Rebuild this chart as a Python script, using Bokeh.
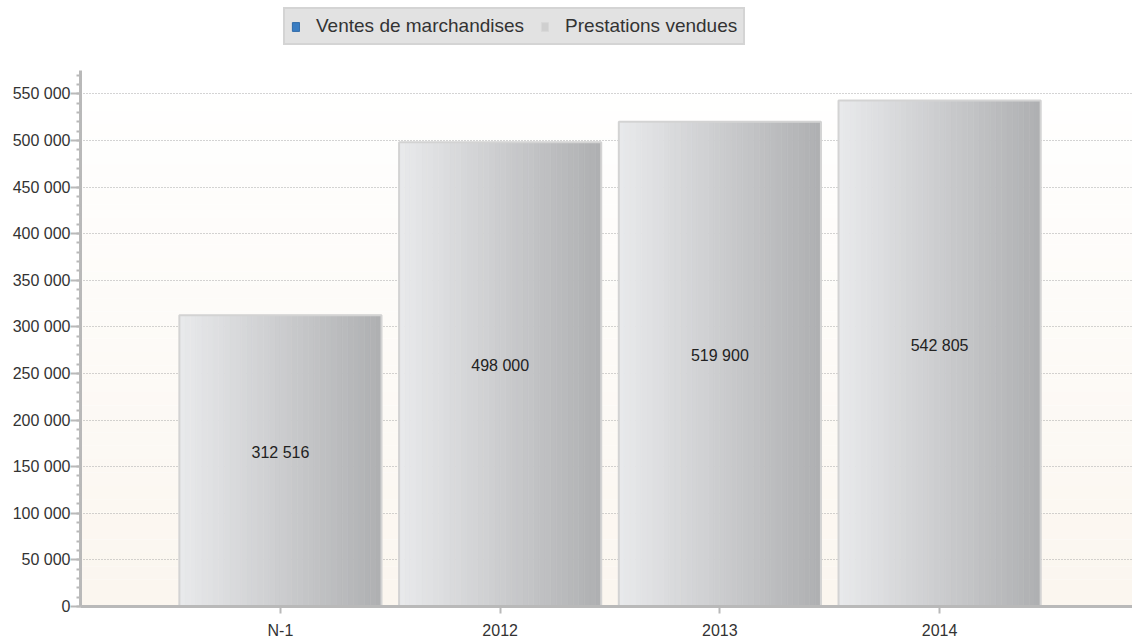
import numpy as np
from bokeh.plotting import figure
from bokeh.layouts import column
from bokeh.models import Range1d, Legend, LegendItem, FixedTicker
from bokeh.core.properties import value
from bokeh.embed import file_html
from bokeh.resources import INLINE

# ---- data ----
categories = ["N-1", "2012", "2013", "2014"]
ventes_marchandises = [0, 0, 0, 0]
prestations_vendues = [312516, 498000, 519900, 542805]
y_major_ticks = list(range(0, 550001, 50000))
y_minor_ticks = list(range(0, 575001, 10000))

FONT = "Liberation Sans"
X0, X1 = -0.91, 3.878
Y0, Y1 = 0, 575000
BAR_W = 0.92
W = 1132
LEG_H = 70
MAIN_H = 641 - LEG_H

def fmt(v):
    return f"{int(v):,}".replace(",", " ")

def mix(c1, c2, t):
    a = [int(c1[i:i + 2], 16) for i in (1, 3, 5)]
    b = [int(c2[i:i + 2], 16) for i in (1, 3, 5)]
    return "#%02x%02x%02x" % tuple(round(a[k] + (b[k] - a[k]) * t) for k in range(3))

xs = list(range(len(categories)))

# ---------------- main chart ----------------
p = figure(width=W, height=MAIN_H, output_backend="svg", toolbar_location=None,
           x_range=Range1d(X0, X1), y_range=Range1d(Y0, Y1),
           min_border_left=80, min_border_right=0, min_border_top=0, min_border_bottom=34)
p.outline_line_color = None
p.background_fill_color = "#ffffff"
p.border_fill_color = "#ffffff"

# background vertical gradient (cream at bottom to white at top)
nb = 40
bb = np.linspace(Y0, Y1, nb + 1)
p.quad(left=[X0] * nb, right=[X1] * nb, bottom=bb[:-1], top=bb[1:],
       fill_color=[mix("#fbf6ef", "#ffffff", i / (nb - 1)) for i in range(nb)],
       line_color=None, level="image")

# stacked bars: ventes (zero) + prestations, prestations with horizontal gradient
base = ventes_marchandises
tops = [b + v for b, v in zip(base, prestations_vendues)]
ns = 36
L, R, B, T, C = [], [], [], [], []
for i, x in enumerate(xs):
    for k in range(ns):
        L.append(x - BAR_W / 2 + BAR_W * k / ns)
        R.append(x - BAR_W / 2 + BAR_W * (k + 1) / ns)
        B.append(base[i])
        T.append(tops[i])
        C.append(mix("#e8e9eb", "#afb0b2", k / (ns - 1)))
p.quad(left=L, right=R, bottom=B, top=T, fill_color=C, line_color=C, line_width=0.6)
p.vbar(x=xs, width=BAR_W, bottom=base, top=tops, fill_alpha=0,
       line_color="#d3d3d3", line_width=2)
p.vbar(x=xs, width=BAR_W, bottom=[0] * len(xs), top=ventes_marchandises,
       fill_color="#3a7dc2", line_color=None)

# value labels
p.text(x=xs, y=[t / 2 for t in tops], text=[fmt(v) for v in prestations_vendues],
       text_align="center", text_baseline="bottom", text_font=value(FONT),
       text_font_size="16px", text_color="#222222")

# axes
yax = p.yaxis[0]
yax.ticker = FixedTicker(ticks=y_major_ticks, minor_ticks=y_minor_ticks)
yax.major_label_overrides = {t: fmt(t) for t in y_major_ticks}
yax.axis_line_color = "#b9b9b9"
yax.axis_line_width = 3
yax.major_tick_line_color = "#b9b9b9"
yax.major_tick_line_width = 2
yax.major_tick_in = 0
yax.major_tick_out = 10
yax.minor_tick_line_color = "#b9b9b9"
yax.minor_tick_line_width = 2
yax.minor_tick_in = 0
yax.minor_tick_out = 4
yax.major_label_text_font = FONT
yax.major_label_text_font_size = "16px"
yax.major_label_text_color = "#333333"
yax.major_label_standoff = 0

xax = p.xaxis[0]
xax.ticker = FixedTicker(ticks=xs)
xax.major_label_overrides = {x: c for x, c in zip(xs, categories)}
xax.axis_line_color = "#b9b9b9"
xax.axis_line_width = 3
xax.major_tick_line_color = "#b9b9b9"
xax.major_tick_line_width = 2
xax.major_tick_in = 0
xax.major_tick_out = 7
xax.minor_tick_out = 0
xax.minor_tick_in = 0
xax.major_label_text_font = FONT
xax.major_label_text_font_size = "16px"
xax.major_label_text_color = "#333333"
xax.major_label_standoff = 8

p.xgrid.grid_line_color = None
p.ygrid.ticker = FixedTicker(ticks=y_major_ticks)
p.ygrid.grid_line_color = "#a8a8a8"
p.ygrid.grid_line_dash = "1 2"
p.ygrid.grid_line_width = 1

# ---------------- legend strip ----------------
lf = figure(width=W, height=LEG_H, output_backend="svg", toolbar_location=None,
            x_range=Range1d(-20, -19), y_range=Range1d(0, 1),
            min_border_left=0, min_border_right=0, min_border_top=0, min_border_bottom=0)
lf.axis.visible = False
lf.grid.visible = False
lf.outline_line_color = None
lf.background_fill_color = "#ffffff"
lf.border_fill_color = "#ffffff"

rv = lf.vbar(x=xs, width=BAR_W, top=ventes_marchandises,
             fill_color="#3a7dc2", line_color="#2f6aa8", line_width=1)
rp = lf.vbar(x=xs, width=BAR_W, top=ventes_marchandises,
             fill_color="#cfcfcf", line_color="#d8d8d8", line_width=1)

legend = Legend(items=[LegendItem(label="Ventes de marchandises", renderers=[rv]),
                       LegendItem(label="Prestations vendues", renderers=[rp])],
                orientation="horizontal", location=(203, 25))
legend.label_text_font = FONT
legend.label_text_font_size = "19px"
legend.label_text_color = "#333333"
legend.glyph_width = 9
legend.glyph_height = 11
legend.label_standoff = 16
legend.spacing = 16
legend.padding = 6
legend.margin = 0
legend.background_fill_color = "#e2e2e2"
legend.background_fill_alpha = 1
legend.border_line_color = "#c6c6c6"
legend.border_line_width = 2
lf.add_layout(legend, "center")

layout = column(lf, p, spacing=0)
open("out.html", "w").write(file_html(layout, INLINE))
